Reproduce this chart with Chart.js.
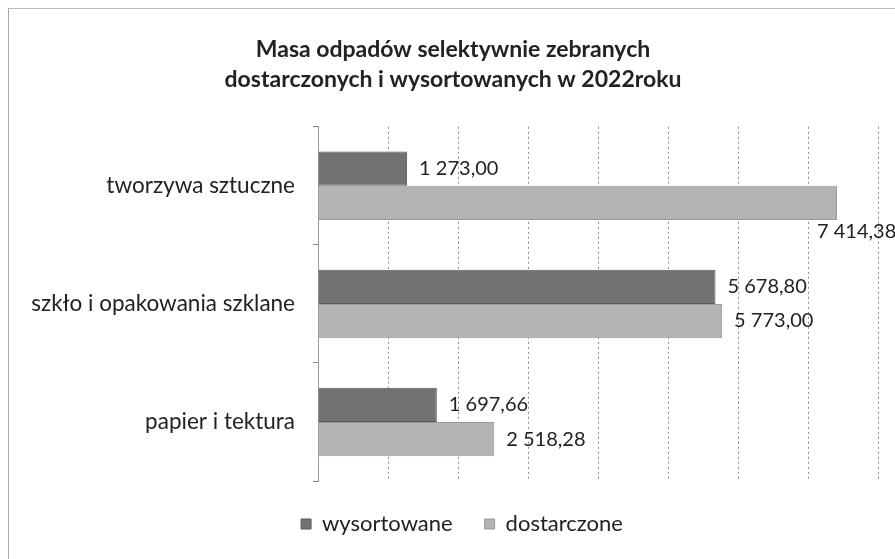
<!DOCTYPE html>
<html>
<head>
<meta charset="utf-8">
<script src="https://cdn.jsdelivr.net/npm/chart.js@4.4.1/dist/chart.umd.min.js"></script>
<style>
  html, body { margin: 0; padding: 0; background: #fff; overflow: hidden; }
  #frame { position: absolute; left: 8px; top: 8px; width: 900px; height: 560px;
           border-left: 1px solid #aaa; border-top: 1px solid #bbb; }
  #wrap { position: absolute; left: 0; top: 0; width: 895px; height: 559px; }
</style>
</head>
<body>
<div id="frame"></div>
<div id="wrap"><canvas id="chart"></canvas></div>
<script>
const categories = ['tworzywa sztuczne', 'szkło i opakowania szklane', 'papier i tektura'];
const wysortowane = [1273.00, 5678.80, 1697.66];
const dostarczone = [7414.38, 5773.00, 2518.28];
const seriesNames = ['wysortowane', 'dostarczone'];
const titleLines = ['Masa odpadów selektywnie zebranych', 'dostarczonych i wysortowanych w 2022roku'];

const FONT = 'Lato, "Open Sans", sans-serif';

// liczby w formacie "1 273,00"
function fmt(v) {
    const parts = v.toFixed(2).split('.');
    const int = parts[0].replace(/\B(?=(\d{3})+(?!\d))/g, ' ');
    return int + ',' + parts[1];
}

const valueLabels = {
    id: 'valueLabels',
    afterDatasetsDraw(chart) {
        const ctx = chart.ctx;
        ctx.save();
        ctx.font = '20px ' + FONT;
        ctx.fillStyle = '#222';
        ctx.textBaseline = 'middle';
        chart.data.datasets.forEach((ds, di) => {
            chart.getDatasetMeta(di).data.forEach((bar, i) => {
                const txt = fmt(ds.data[i]);
                const w = ctx.measureText(txt).width;
                let x = bar.x + 12;
                let y = bar.y;
                if (x + w > chart.chartArea.right) {
                    // nie mieści się - pod słupkiem
                    x = bar.x - 20;
                    y = bar.y + bar.height / 2 + 11;
                }
                ctx.fillText(txt, x, y);
            });
        });
        ctx.restore();
    }
};

// przesunięcie tytułu i legendy w prawo jak w oryginale
const shiftBoxes = {
    id: 'shiftBoxes',
    afterLayout(chart) {
        if (chart.titleBlock) { chart.titleBlock.left += 14; chart.titleBlock.right += 14; }
        if (chart.legend) { chart.legend.left += 23; chart.legend.right += 23; }
    }
};

new Chart(document.getElementById('chart'), {
    type: 'bar',
    data: {
        labels: categories,
        datasets: [
            { label: seriesNames[0], data: wysortowane, backgroundColor: '#727272', borderColor: '#5a5a5a', borderWidth: 1 },
            { label: seriesNames[1], data: dostarczone, backgroundColor: '#b4b4b4', borderColor: '#999', borderWidth: 1 }
        ]
    },
    options: {
        indexAxis: 'y',
        responsive: true,
        maintainAspectRatio: false,
        animation: false,
        datasets: { bar: { categoryPercentage: 0.58, barPercentage: 1.0 } },
        layout: { padding: { left: 0, right: 17, top: 35, bottom: 14 } },
        plugins: {
            title: {
                display: true,
                text: titleLines,
                color: '#222',
                font: { family: FONT, size: 23, weight: 'bold', lineHeight: 1.3 },
                padding: { top: 0, bottom: 32 }
            },
            legend: {
                position: 'bottom',
                labels: {
                    color: '#222',
                    font: { family: FONT, size: 22 },
                    boxWidth: 10, boxHeight: 10,
                    padding: 32
                }
            },
            tooltip: { enabled: false }
        },
        scales: {
            x: {
                min: 0, max: 8000,
                ticks: { display: false, stepSize: 1000 },
                grid: { color: '#8a8a8a', drawTicks: false, lineWidth: 1 },
                border: { display: false, dash: [2, 3] }
            },
            y: {
                afterFit(scale) { scale.width = 318; },
                ticks: { color: '#222', font: { family: FONT, size: 22.5 }, padding: 18 },
                grid: { offset: true, drawOnChartArea: false, drawTicks: true, tickLength: 5, color: '#888' },
                border: { display: true, color: '#999' }
            }
        }
    },
    plugins: [valueLabels, shiftBoxes]
});
</script>
</body>
</html>
